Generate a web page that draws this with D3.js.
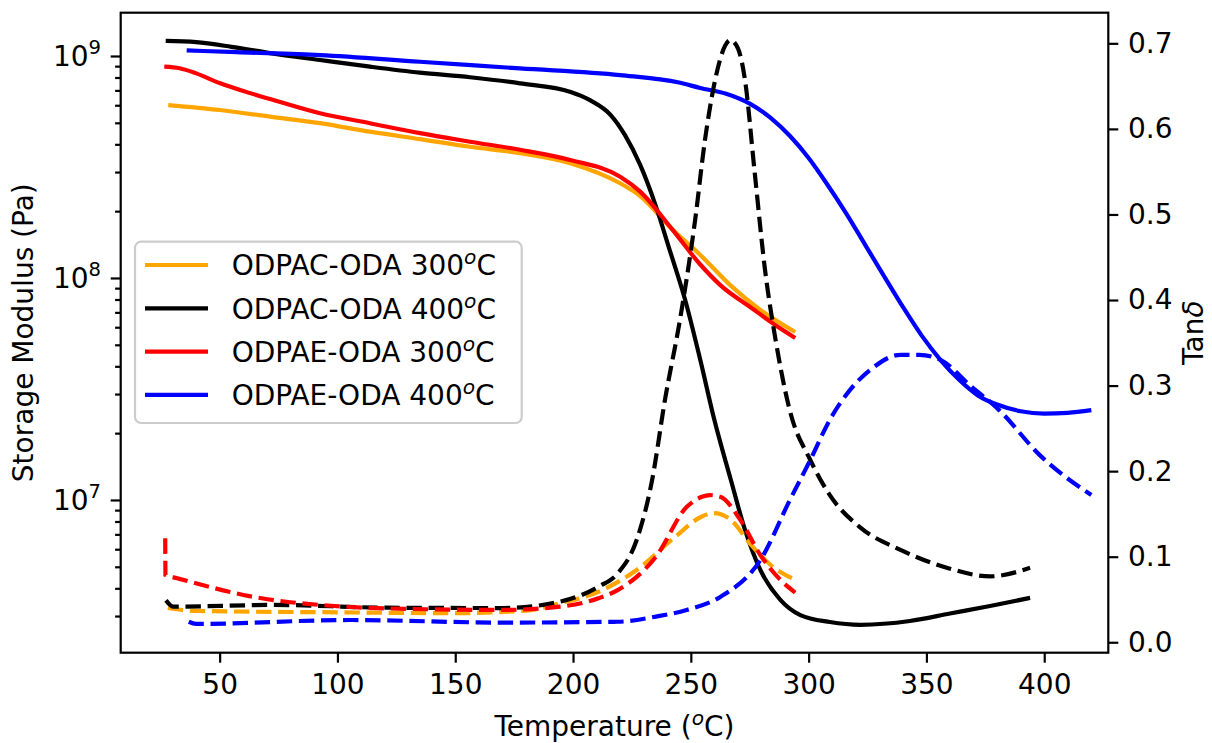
<!DOCTYPE html>
<html>
<head>
<meta charset="utf-8">
<script src="https://cdn.jsdelivr.net/npm/d3@7"></script>
<style>
body { margin: 0; background: #fff; }
text { font-family: "DejaVu Sans", sans-serif; fill: #000; }
</style>
</head>
<body>
<svg id="chart" width="1212" height="743"></svg>
<script>

// storage modulus (Pa) vs temperature (C)
var odpac300Mod = [[28.2, 6.01e8], [50.1, 5.71e8], [71.4, 5.33e8], [92.6, 4.98e8], [113.8, 4.56e8], [135, 4.22e8], [156.3, 3.90e8], [177.5, 3.65e8], [198.8, 3.29e8], [220, 2.67e8], [228.5, 2.34e8], [242, 1.66e8], [254, 1.27e8], [266.7, 9.29e7], [279.5, 7.18e7], [294.3, 5.71e7]];
var odpac400Mod = [[27.1, 1.17e9], [40, 1.155e9], [55, 1.10e9], [71.4, 1.03e9], [92.6, 9.59e8], [113.8, 8.95e8], [135, 8.41e8], [156.3, 8.02e8], [177.5, 7.53e8], [199, 6.89e8], [207, 6.34e8], [216, 5.42e8], [222, 4.41e8], [228.5, 3.23e8], [235, 2.13e8], [241, 1.34e8], [247.6, 7.96e7], [254, 4.28e7], [260, 2.29e7], [267, 1.23e7], [273, 7.33e6], [279.5, 4.84e6], [288, 3.55e6], [296.5, 3.03e6], [309, 2.82e6], [322, 2.74e6], [343, 2.85e6], [360, 3.08e6], [377, 3.33e6], [394, 3.62e6]];
var odpae300Mod = [[26.5, 8.95e8], [33, 8.80e8], [40, 8.35e8], [50, 7.55e8], [60, 6.95e8], [71.4, 6.40e8], [92.6, 5.52e8], [113.8, 4.98e8], [135, 4.49e8], [156.3, 4.11e8], [177.5, 3.78e8], [198.8, 3.40e8], [220, 2.86e8], [228.5, 2.45e8], [242, 1.66e8], [254, 1.15e8], [262.5, 9.29e7], [275.2, 7.40e7], [285.8, 6.14e7], [294.3, 5.37e7]];
var odpae400Mod = [[36, 1.06e9], [57.2, 1.04e9], [92.6, 1.01e9], [135, 9.42e8], [177.5, 8.79e8], [220, 8.20e8], [245, 7.59e8], [254, 7.18e8], [265, 6.76e8], [275, 6.10e8], [284, 5.25e8], [292, 4.37e8], [300, 3.47e8], [308, 2.63e8], [316, 1.95e8], [324, 1.41e8], [332, 1.02e8], [340, 7.41e7], [348, 5.50e7], [356, 4.27e7], [364, 3.47e7], [372, 2.95e7], [380, 2.69e7], [390, 2.51e7], [400, 2.45e7], [410, 2.47e7], [420, 2.54e7]];

// tan delta vs temperature (C)
var odpac300Tan = [[28, 0.040], [40, 0.0366], [100, 0.035], [150, 0.034], [180, 0.037], [194.5, 0.0456], [210.8, 0.059], [227, 0.0845], [243.3, 0.123], [254.7, 0.147], [260, 0.151], [267, 0.143], [275.5, 0.114], [284, 0.090], [294.3, 0.073]];
var odpac400Tan = [[27.2, 0.049], [30.4, 0.0416], [72.7, 0.0436], [121.5, 0.0404], [170, 0.040], [194.5, 0.0475], [210.8, 0.065], [219, 0.0806], [227, 0.1195], [233.6, 0.19], [239, 0.283], [245.4, 0.377], [251.8, 0.493], [256, 0.587], [260.3, 0.657], [264.5, 0.697], [266.7, 0.704], [270, 0.694], [273, 0.657], [277, 0.552], [281.5, 0.435], [286, 0.353], [292, 0.271], [300.7, 0.213], [309, 0.172], [322, 0.134], [339, 0.108], [360, 0.086], [377, 0.077], [394, 0.087]];
var odpae300Tan = [[26.9, 0.1215], [27.0, 0.0786], [32, 0.0748], [67.8, 0.0514], [98.7, 0.0424], [137.7, 0.0386], [170.2, 0.0378], [194.5, 0.0416], [210.8, 0.0514], [218.9, 0.061], [235.2, 0.100], [248.2, 0.158], [254.7, 0.170], [258, 0.172], [262.5, 0.170], [271, 0.143], [279.5, 0.102], [288, 0.073], [294.3, 0.058]];
var odpae400Tan = [[36.9, 0.024], [40, 0.0214], [105, 0.026], [170, 0.023], [219, 0.024], [235.2, 0.030], [248.2, 0.0377], [262.5, 0.053], [279.5, 0.096], [292, 0.166], [300.7, 0.213], [309, 0.260], [317.6, 0.295], [326, 0.318], [339, 0.336], [347, 0.336], [356, 0.330], [368.6, 0.300], [381, 0.271], [398, 0.219], [420, 0.172]];

var names = ['ODPAC-ODA 300', 'ODPAC-ODA 400', 'ODPAE-ODA 300', 'ODPAE-ODA 400'];
var colors = ['#FFA500', '#000000', '#FF0000', '#0000FF'];
var xTicks = [50, 100, 150, 200, 250, 300, 350, 400];
var modTicks = [1e7, 1e8, 1e9];
var tanTicks = [0, 0.1, 0.2, 0.3, 0.4, 0.5, 0.6, 0.7];

var modSeries = [odpac300Mod, odpac400Mod, odpae300Mod, odpae400Mod];
var tanSeries = [odpac300Tan, odpac400Tan, odpae300Tan, odpae400Tan];

var pL = 120.7, pR = 1108.3, pT = 12.7, pB = 652.7;
var fs = 28;

var svg = d3.select('#chart');

var x = d3.scaleLinear().domain([8.0, 427.2]).range([pL, pR]);
var yMod = d3.scaleLog().domain([Math.pow(10, 6.312), Math.pow(10, 9.195)]).range([pB, pT]);
var yTan = d3.scaleLinear().domain([-0.0122, 0.7358]).range([pB, pT]);

var lineMod = d3.line().x(function(d) { return x(d[0]); }).y(function(d) { return yMod(d[1]); }).curve(d3.curveMonotoneX);
var lineTan = d3.line().x(function(d) { return x(d[0]); }).y(function(d) { return yTan(d[1]); }).curve(d3.curveMonotoneX);

svg.append('defs').append('clipPath').attr('id', 'clip')
	.append('rect').attr('x', pL).attr('y', pT).attr('width', pR - pL).attr('height', pB - pT);

var plot = svg.append('g').attr('clip-path', 'url(#clip)');

modSeries.forEach(function(s, i) {
	plot.append('path').datum(s)
		.attr('d', lineMod)
		.attr('fill', 'none')
		.attr('stroke', colors[i])
		.attr('stroke-width', 4.2);
});

// legend (belongs to the modulus axes)
var lg = svg.append('g');
lg.append('rect')
	.attr('x', 135).attr('y', 241.7).attr('width', 386.7).attr('height', 181.3)
	.attr('rx', 6).attr('ry', 6)
	.attr('fill', 'rgba(255,255,255,0.8)')
	.attr('stroke', '#cccccc').attr('stroke-width', 2.2);

names.forEach(function(n, i) {
	var yy = 265 + i * 43.3;
	lg.append('line').attr('x1', 145).attr('x2', 208).attr('y1', yy).attr('y2', yy)
		.attr('stroke', colors[i]).attr('stroke-width', 4.2);
	var t = lg.append('text').attr('x', 231.7).attr('y', yy + 10.2).style('font-size', fs + 'px');
	t.append('tspan').text(n);
	t.append('tspan').attr('dy', -11).style('font-size', (fs * 0.72) + 'px').style('font-style', 'italic').text('o');
	t.append('tspan').attr('dy', 11).text('C');
});

tanSeries.forEach(function(s, i) {
	plot.append('path').datum(s)
		.attr('d', lineTan)
		.attr('fill', 'none')
		.attr('stroke', colors[i])
		.attr('stroke-width', 4.2)
		.attr('stroke-dasharray', '15.4,6.7');
});

// axes
function styleAxis(g) {
	g.select('.domain').remove();
	g.selectAll('line').attr('stroke', '#000').attr('stroke-width', 2.2);
	g.selectAll('text').style('font-size', fs + 'px').attr('fill', '#000').style('font-family', '"DejaVu Sans", sans-serif');
}

svg.append('g').attr('transform', 'translate(0,' + pB + ')')
	.call(d3.axisBottom(x).tickValues(xTicks).tickFormat(d3.format('d')).tickSize(10).tickPadding(11))
	.call(styleAxis);

var minor = [];
for (var e = 6; e <= 9; e++)
	for (var m = 2; m <= 9; m++) {
		var v = m * Math.pow(10, e);
		if (v >= yMod.domain()[0] && v <= yMod.domain()[1])
			minor.push(v);
	}

svg.append('g').attr('transform', 'translate(' + pL + ',0)')
	.call(d3.axisLeft(yMod).tickValues(minor).tickFormat('').tickSize(5.6))
	.call(styleAxis);

var gl = svg.append('g').attr('transform', 'translate(' + pL + ',0)')
	.call(d3.axisLeft(yMod).tickValues(modTicks).tickSize(10).tickPadding(9.7))
	.call(styleAxis);

gl.selectAll('.tick text').each(function(d) {
	var t = d3.select(this);
	var ex = Math.round(Math.log10(d));
	t.text(null).attr('dy', '0.34em');
	t.append('tspan').text('10');
	t.append('tspan').attr('dy', -12).style('font-size', (fs * 0.7) + 'px').text(ex);
});

svg.append('g').attr('transform', 'translate(' + pR + ',0)')
	.call(d3.axisRight(yTan).tickValues(tanTicks).tickFormat(d3.format('.1f')).tickSize(10).tickPadding(9.7))
	.call(styleAxis);

svg.append('rect')
	.attr('x', pL).attr('y', pT).attr('width', pR - pL).attr('height', pB - pT)
	.attr('fill', 'none').attr('stroke', '#000').attr('stroke-width', 2.2);

// axis titles
var xl = svg.append('text').attr('x', (pL + pR) / 2).attr('y', 736)
	.attr('text-anchor', 'middle').style('font-size', fs + 'px');
xl.append('tspan').text('Temperature (');
xl.append('tspan').attr('dy', -11).style('font-size', (fs * 0.72) + 'px').style('font-style', 'italic').text('o');
xl.append('tspan').attr('dy', 11).text('C)');

svg.append('text')
	.attr('transform', 'translate(33,' + ((pT + pB) / 2) + ') rotate(-90)')
	.attr('text-anchor', 'middle').style('font-size', fs + 'px')
	.text('Storage Modulus (Pa)');

var yr = svg.append('text')
	.attr('transform', 'translate(1203,' + ((pT + pB) / 2) + ') rotate(-90)')
	.attr('text-anchor', 'middle').style('font-size', fs + 'px');
yr.append('tspan').text('Tan');
yr.append('tspan').style('font-style', 'italic').text('δ');

</script>
</body>
</html>
